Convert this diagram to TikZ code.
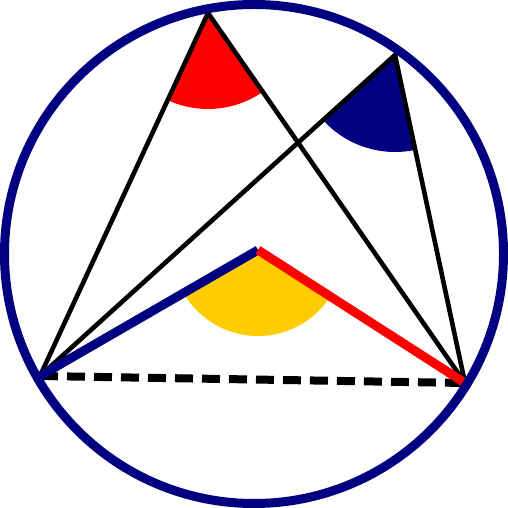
\documentclass[tikz,border=0pt]{standalone}
\usetikzlibrary{angles}
\definecolor{navyblue}{RGB}{0,0,128}
\definecolor{goldcolor}{RGB}{255,204,0}
\tikzset{
  chord/.style={line width=4.6pt, line join=miter},
  radiusline/.style={line width=9pt},
  sector/.style={draw=none, angle radius=#1}
}
\begin{document}
\begin{tikzpicture}[x=1pt,y=1pt]
    \useasboundingbox (0,0) rectangle (508,508);
    % Define points
    \coordinate (C) at (254,254);
    \coordinate (A) at (208,495);
    \coordinate (B) at (395,453);
    \coordinate (P) at (40,132);
    \coordinate (Q) at (465,125);
    \coordinate (O) at (258,258);

    % Draw angle sectors
    \pic[sector=96, fill=red] {angle = P--A--Q};
    \pic[sector=97, fill=navyblue] {angle = P--B--Q};
    \pic[sector=86, fill=goldcolor] {angle = P--O--Q};

    % Draw dashed chord
    \draw[line width=8pt, dash pattern=on 18pt off 9pt] (P) -- (Q);

    % Draw chords to the points on the circle
    \draw[chord] (P) -- (A) -- (Q);
    \draw[chord] (P) -- (B) -- (Q);

    % Draw radii
    \draw[radiusline, navyblue] (P) -- (O);
    \draw[radiusline, red] (O) -- (Q);

    % Draw circle
    \draw[navyblue, line width=9pt] (C) circle (249.5);
\end{tikzpicture}
\end{document}
